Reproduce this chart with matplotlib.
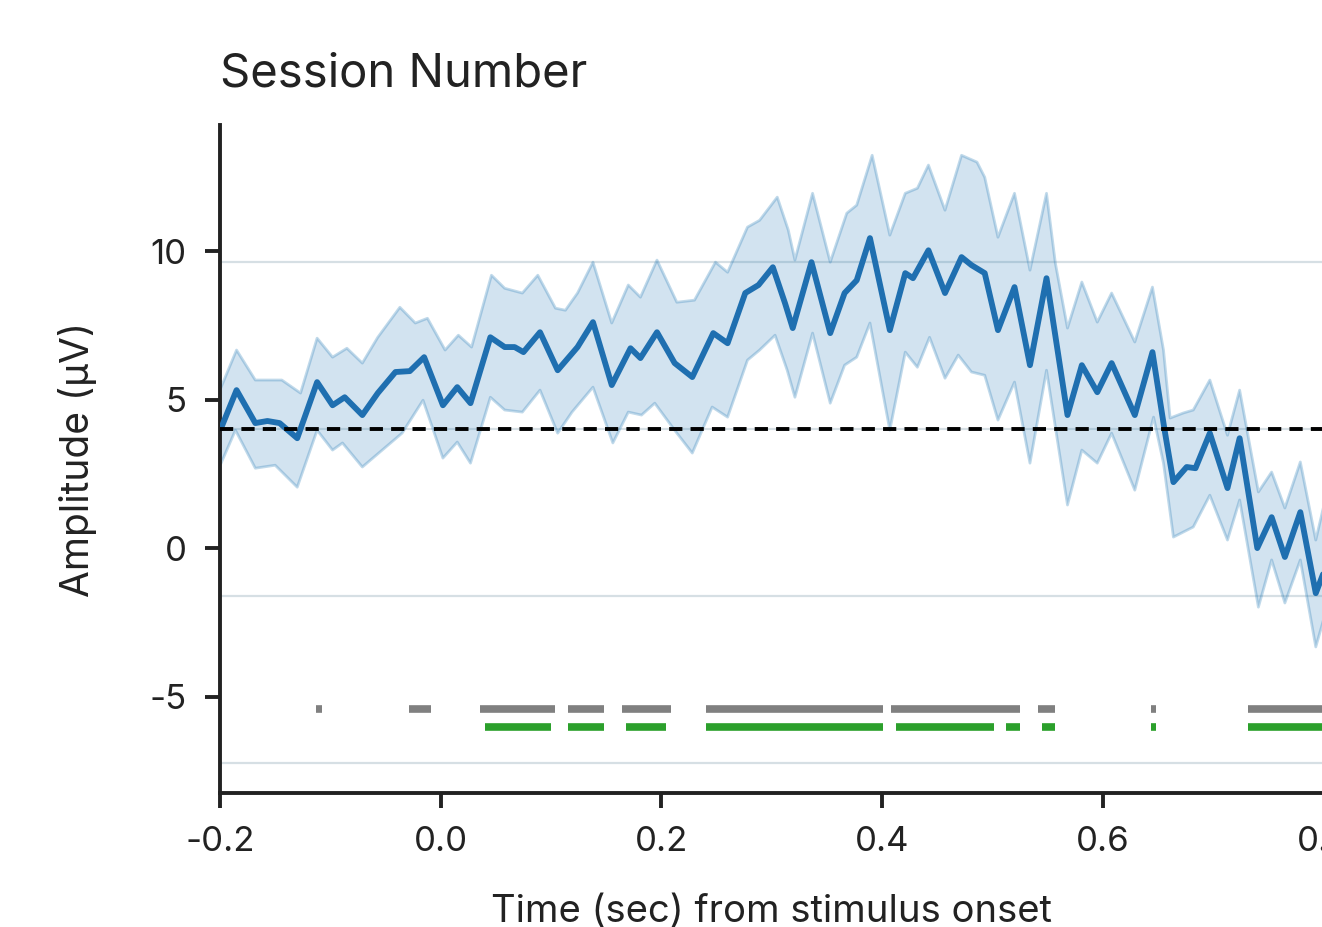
import matplotlib
matplotlib.use('Agg')
import matplotlib.pyplot as plt

# mean amplitude trace
mean_t = [-0.199, -0.185, -0.168, -0.157, -0.146, -0.130, -0.112, -0.098, -0.087, -0.071,
          -0.057, -0.041, -0.028, -0.015, 0.002, 0.015, 0.027, 0.045, 0.058, 0.067,
          0.075, 0.090, 0.106, 0.124, 0.138, 0.155, 0.172, 0.181, 0.196, 0.212,
          0.228, 0.247, 0.260, 0.276, 0.288, 0.301, 0.312, 0.319, 0.336, 0.353,
          0.366, 0.377, 0.389, 0.407, 0.421, 0.428, 0.442, 0.457, 0.472, 0.481,
          0.493, 0.505, 0.520, 0.534, 0.549, 0.568, 0.581, 0.595, 0.608, 0.629,
          0.645, 0.656, 0.664, 0.676, 0.684, 0.697, 0.713, 0.724, 0.740, 0.753,
          0.765, 0.779, 0.793, 0.800]
mean_a = [4.04, 5.32, 4.21, 4.28, 4.21, 3.70, 5.59, 4.81, 5.08, 4.48,
          5.22, 5.93, 5.96, 6.43, 4.81, 5.42, 4.88, 7.10, 6.77, 6.77,
          6.60, 7.27, 5.99, 6.77, 7.61, 5.49, 6.73, 6.40, 7.27, 6.23,
          5.76, 7.24, 6.90, 8.59, 8.86, 9.46, 8.25, 7.41, 9.63, 7.24,
          8.59, 9.02, 10.44, 7.34, 9.26, 9.09, 10.03, 8.59, 9.80, 9.53,
          9.26, 7.34, 8.79, 6.16, 9.09, 4.48, 6.16, 5.25, 6.23, 4.48,
          6.60, 3.97, 2.22, 2.73, 2.69, 3.87, 2.02, 3.70, 0.00, 1.04,
          -0.30, 1.21, -1.52, -0.84]

# upper edge of the shaded band
upper_t = [-0.199, -0.185, -0.168, -0.144, -0.127, -0.112, -0.098, -0.085, -0.071, -0.057,
           -0.037, -0.023, -0.012, 0.004, 0.016, 0.028, 0.046, 0.058, 0.074, 0.088,
           0.104, 0.113, 0.124, 0.138, 0.155, 0.170, 0.181, 0.196, 0.214, 0.230,
           0.249, 0.260, 0.278, 0.289, 0.305, 0.315, 0.321, 0.337, 0.353, 0.368,
           0.377, 0.391, 0.407, 0.421, 0.432, 0.442, 0.457, 0.472, 0.486, 0.493,
           0.505, 0.520, 0.534, 0.549, 0.557, 0.568, 0.581, 0.595, 0.608, 0.629,
           0.645, 0.655, 0.661, 0.673, 0.682, 0.697, 0.713, 0.724, 0.741, 0.753,
           0.765, 0.779, 0.793, 0.800]
upper_a = [5.42, 6.67, 5.66, 5.66, 5.22, 7.07, 6.43, 6.73, 6.23, 7.10,
           8.11, 7.58, 7.74, 6.67, 7.17, 6.77, 9.19, 8.75, 8.59, 9.19,
           8.08, 8.01, 8.59, 9.63, 7.58, 8.86, 8.45, 9.70, 8.28, 8.35,
           9.63, 9.29, 10.81, 11.04, 11.82, 10.71, 9.70, 11.95, 9.63, 11.28,
           11.55, 13.23, 10.54, 11.95, 12.12, 12.90, 11.38, 13.23, 13.00, 12.49,
           10.47, 11.95, 9.36, 11.95, 9.60, 7.41, 8.96, 7.61, 8.59, 6.94,
           8.79, 6.67, 4.38, 4.55, 4.65, 5.66, 3.80, 5.32, 1.89, 2.56,
           1.35, 2.90, 0.27, 1.38]

# lower edge of the shaded band
lower_t = [-0.199, -0.186, -0.168, -0.150, -0.130, -0.112, -0.098, -0.089, -0.071, -0.053,
           -0.035, -0.016, 0.002, 0.015, 0.027, 0.045, 0.058, 0.074, 0.090, 0.106,
           0.119, 0.138, 0.156, 0.170, 0.182, 0.194, 0.212, 0.228, 0.246, 0.260,
           0.278, 0.289, 0.303, 0.314, 0.321, 0.337, 0.353, 0.366, 0.377, 0.389,
           0.407, 0.421, 0.432, 0.443, 0.457, 0.469, 0.481, 0.493, 0.505, 0.520,
           0.534, 0.549, 0.568, 0.581, 0.595, 0.608, 0.629, 0.646, 0.655, 0.664,
           0.682, 0.697, 0.713, 0.724, 0.741, 0.753, 0.765, 0.779, 0.793, 0.800]
lower_a = [2.86, 3.97, 2.69, 2.79, 2.05, 3.97, 3.30, 3.54, 2.73, 3.30,
           3.87, 4.98, 3.03, 3.57, 2.86, 5.08, 4.65, 4.58, 5.32, 3.87,
           4.58, 5.42, 3.54, 4.58, 4.48, 4.88, 3.97, 3.20, 4.75, 4.41,
           6.33, 6.67, 7.17, 5.99, 5.08, 7.24, 4.88, 6.16, 6.43, 7.58,
           3.97, 6.60, 6.09, 7.10, 5.72, 6.50, 5.93, 5.82, 4.31, 5.59,
           2.86, 5.99, 1.45, 3.30, 2.86, 3.87, 1.95, 4.41, 2.86, 0.37,
           0.71, 1.78, 0.27, 1.62, -1.99, -0.40, -1.85, -0.40, -3.33, -2.42]

baseline = 4.0
grid_levels = [9.625, 4.0, -1.625, -7.25]

# significant time windows (start, end)
gray_windows = [(-0.113, -0.108), (-0.029, -0.009), (0.036, 0.104), (0.115, 0.148),
                (0.164, 0.209), (0.240, 0.401), (0.408, 0.525), (0.541, 0.557),
                (0.644, 0.648), (0.732, 0.800)]
green_windows = [(0.040, 0.100), (0.115, 0.148), (0.168, 0.204), (0.240, 0.401),
                 (0.413, 0.501), (0.512, 0.525), (0.545, 0.557), (0.644, 0.648),
                 (0.732, 0.800)]
gray_level = -5.42
green_level = -6.03

plt.rcParams['font.family'] = ['Inter', 'DejaVu Sans']
plt.rcParams['axes.unicode_minus'] = False

fig = plt.figure(figsize=(13.22, 9.27), dpi=100)
ax = fig.add_axes([220 / 1322, 134 / 927, 1103.5 / 1322, 668 / 927])

for g in grid_levels:
    ax.axhline(g, color='#d6dfe4', lw=1.6, zorder=0)

band_x = upper_t + lower_t[::-1]
band_y = upper_a + lower_a[::-1]
ax.fill(band_x, band_y, facecolor='#1f77b4', alpha=0.2, edgecolor='none', zorder=1)
ax.plot(upper_t, upper_a, color='#1f77b4', alpha=0.28, lw=2.0, zorder=1, solid_joinstyle='round')
ax.plot(lower_t, lower_a, color='#1f77b4', alpha=0.28, lw=2.0, zorder=1, solid_joinstyle='round')
ax.plot(mean_t, mean_a, color='#1f6fb0', lw=4.2, zorder=3,
        solid_joinstyle='round', solid_capstyle='round')

ax.axhline(baseline, color='black', lw=2.8, ls=(0, (3.4, 2.1)), zorder=4)

for s, e in gray_windows:
    ax.hlines(gray_level, s, e, color='#808080', lw=5.5, capstyle='butt')
for s, e in green_windows:
    ax.hlines(green_level, s, e, color='#2ca02c', lw=5.5, capstyle='butt')

ax.set_xlim(-0.2, 0.8)
ax.set_ylim(-8.25, 14.25)
ax.set_xticks([-0.2, 0.0, 0.2, 0.4, 0.6, 0.8])
ax.set_xticklabels(['-0.2', '0.0', '0.2', '0.4', '0.6', '0.8'])
ax.set_yticks([-5, 0, 5, 10])

for side in ['top', 'right']:
    ax.spines[side].set_visible(False)
for side in ['left', 'bottom']:
    ax.spines[side].set_linewidth(2.8)
    ax.spines[side].set_color('#222222')
ax.tick_params(axis='both', length=11, width=2.8, color='#222222', pad=13,
               labelsize=25, labelcolor='#222222')

ax.set_ylabel('Amplitude (µV)', fontsize=28, labelpad=38, color='#222222')
ax.set_xlabel('Time (sec) from stimulus onset', fontsize=27.5, labelpad=26, color='#222222')
ax.set_title('Session Number', loc='left', fontsize=34, pad=28, color='#222222')

fig.savefig('out.png', dpi=100)
